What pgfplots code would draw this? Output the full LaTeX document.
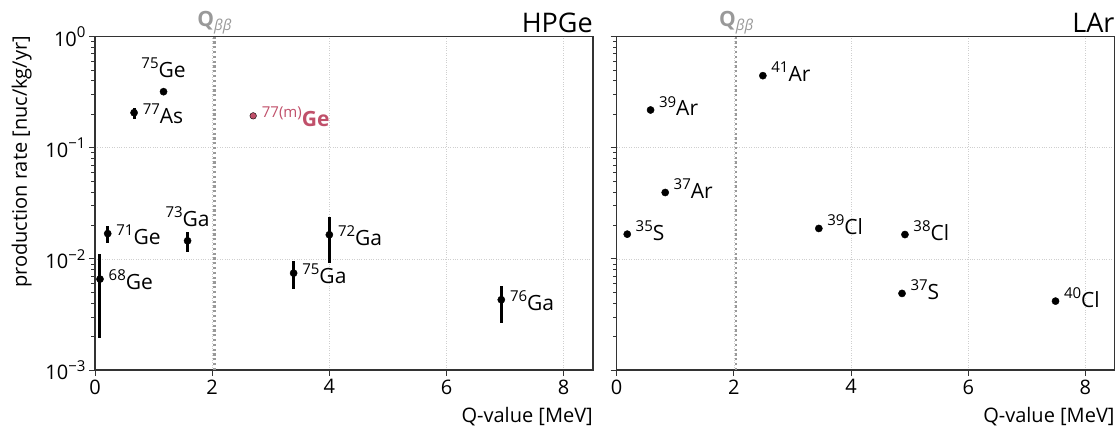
\documentclass[border=0pt]{standalone}
\usepackage{fontspec}
\setmainfont{Open Sans}
\usepackage{pgfplots}
\usepackage{pgfplotstable}
\pgfplotsset{compat=1.18}
\definecolor{gridc}{HTML}{CFCFCF}
\definecolor{qcol}{HTML}{999999}
\definecolor{mred}{HTML}{C0506A}
\definecolor{spine}{HTML}{333333}
\newcommand{\sups}[1]{\raisebox{0.42em}{\fontsize{15}{15}\selectfont #1}}
\newcommand{\lblfont}{\fontsize{21}{25}\selectfont}
\newcommand{\Qbb}{{\color{qcol}\fontsize{21}{24}\selectfont\bfseries Q\raisebox{-0.22em}{\fontsize{15}{15}\selectfont\mdseries\itshape ββ}}}
\newcommand{\logtick}{\pgfmathtruncatemacro\ee{round(\tick/2.302585)}10\sups{\ifnum\ee<0 −\number-\ee\else\ee\fi}}

\pgfplotstableread{
x y ep em
0.085 0.00658 0.00452 0.00464
0.217 0.0169 0.0030 0.0031
0.667 0.207 0.020 0.024
1.17 0.32 0 0
1.58 0.01455 0.00285 0.0029
3.39 0.00745 0.00215 0.0021
4.00 0.0165 0.0073 0.0073
6.935 0.00429 0.00144 0.00164
}\hpge
\pgfplotstableread{
x y
2.70 0.194
}\hpgered
\pgfplotstableread{
x y
0.18 0.0167
0.578 0.219
0.828 0.0396
2.495 0.446
3.45 0.0188
4.87 0.00489
4.92 0.01657
7.49 0.00417
}\lar

\tikzset{
  lblR/.style={anchor=base west, inner sep=0pt, xshift=8.5pt, yshift=-10.7pt, font=\lblfont},
  lblA/.style={anchor=base, inner sep=0pt, yshift=14.5pt, font=\lblfont},
  lblL/.style={anchor=base west, inner sep=0pt, xshift=8.3pt, yshift=-6pt, font=\lblfont},
  qline/.style={qcol, line width=2.4pt, dash pattern=on 2.2pt off 2.6pt},
}

\begin{document}
\begin{tikzpicture}
\begin{axis}[
    scale only axis, width=498pt, height=333.3pt,
    xmin=0, xmax=8.5, ymin=0.001, ymax=1, ymode=log,
    xtick={0,2,4,6,8}, ytick={0.001,0.01,0.1,1},
    xtick pos=bottom, ytick pos=left,
    tick align=outside, major tick length=6pt, minor tick length=3.5pt,
    tick style={spine, line width=0.9pt},
    axis line style={spine, line width=1.1pt},
    grid=major, major grid style={gridc, dotted, line width=0.7pt},
    tick label style={font=\fontsize{20}{24}\selectfont},
    /pgf/number format/assume math mode=true,
    clip=false,
    yticklabel={\logtick},
]
\addplot[qline] coordinates {(2.039,0.001) (2.039,1)};
\addplot[only marks, mark=*, mark size=3.6pt, black, mark options={draw=none,fill=black},
  error bars/.cd, y dir=both, y explicit, error mark=none,
  error bar style={line width=3pt, black}]
  table[x=x, y=y, y error plus=ep, y error minus=em] {\hpge};
\addplot[only marks, mark=*, mark size=3.3pt, mark options={draw=none,fill=mred}] table[x=x,y=y] {\hpgered};
\node[lblR] at (axis cs:0.085,0.00658) {\sups{68}Ge};
\node[lblR] at (axis cs:0.217,0.0169) {\sups{71}Ge};
\node[lblR] at (axis cs:0.667,0.207) {\sups{77}As};
\node[lblA] at (axis cs:1.17,0.32) {\sups{75}Ge};
\node[lblA] at (axis cs:1.58,0.01455) {\sups{73}Ga};
\node[lblR] at (axis cs:3.39,0.00745) {\sups{75}Ga};
\node[lblR] at (axis cs:4.00,0.0165) {\sups{72}Ga};
\node[lblR] at (axis cs:6.935,0.00429) {\sups{76}Ga};
\node[lblR, text=mred] at (axis cs:2.70,0.194) {\sups{77(m)}\textbf{Ge}};
\node[anchor=base, inner sep=0pt, yshift=10.7pt] at (axis cs:2.039,1) {\Qbb};
\node[anchor=base east, inner sep=0pt, yshift=4pt, font=\fontsize{27}{30}\selectfont] at (rel axis cs:1,1) {HPGe};
\node[anchor=base east, inner sep=0pt, yshift=-52pt, font=\fontsize{20}{24}\selectfont] at (rel axis cs:1,0) {Q-value [MeV]};
\node[anchor=base east, inner sep=0pt, rotate=90, yshift=68pt, xshift=1pt, font=\fontsize{20}{24}\selectfont] at (rel axis cs:0,1) {production rate [nuc/kg/yr]};
\end{axis}
\begin{axis}[
    at={(521.7pt,0pt)},
    scale only axis, width=498pt, height=333.3pt,
    xmin=0, xmax=8.5, ymin=0.001, ymax=1, ymode=log,
    xtick={0,2,4,6,8}, ytick={0.001,0.01,0.1,1},
    xtick pos=bottom, ytick pos=left,
    tick align=outside, major tick length=6pt, minor tick length=3.5pt,
    tick style={spine, line width=0.9pt},
    axis line style={spine, line width=1.1pt},
    grid=major, major grid style={gridc, dotted, line width=0.7pt},
    tick label style={font=\fontsize{20}{24}\selectfont},
    /pgf/number format/assume math mode=true,
    clip=false,
    yticklabels={},
]
\addplot[qline] coordinates {(2.039,0.001) (2.039,1)};
\addplot[only marks, mark=*, mark size=3.6pt, mark options={draw=none,fill=black}] table[x=x,y=y] {\lar};
\node[lblL] at (axis cs:0.18,0.0167) {\sups{35}S};
\node[lblL] at (axis cs:0.578,0.219) {\sups{39}Ar};
\node[lblL] at (axis cs:0.828,0.0396) {\sups{37}Ar};
\node[lblL] at (axis cs:2.495,0.446) {\sups{41}Ar};
\node[lblL] at (axis cs:3.45,0.0188) {\sups{39}Cl};
\node[lblL] at (axis cs:4.87,0.00489) {\sups{37}S};
\node[lblL] at (axis cs:4.92,0.01657) {\sups{38}Cl};
\node[lblL] at (axis cs:7.49,0.00417) {\sups{40}Cl};
\node[anchor=base, inner sep=0pt, yshift=10.7pt] at (axis cs:2.039,1) {\Qbb};
\node[anchor=base east, inner sep=0pt, yshift=4pt, font=\fontsize{27}{30}\selectfont] at (rel axis cs:1,1) {LAr};
\node[anchor=base east, inner sep=0pt, yshift=-52pt, font=\fontsize{20}{24}\selectfont] at (rel axis cs:1,0) {Q-value [MeV]};
\end{axis}
\pgfresetboundingbox
\path (-95pt,-59pt) rectangle (1025pt,370pt);
\end{tikzpicture}
\end{document}
